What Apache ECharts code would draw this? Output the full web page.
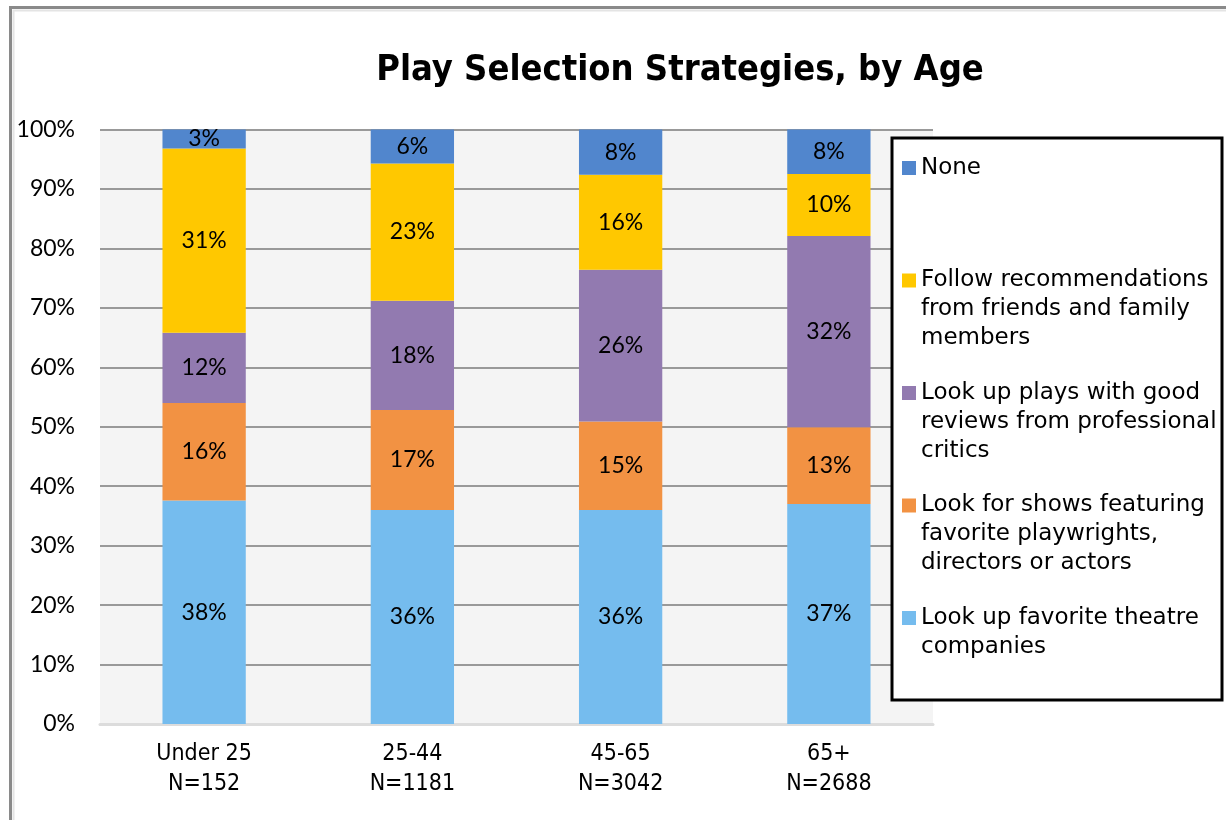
<!DOCTYPE html>
<html>
<head>
<meta charset="utf-8">
<title>Play Selection Strategies, by Age</title>
<script src="https://cdn.jsdelivr.net/npm/echarts@6/dist/echarts.min.js"></script>
<style>
  html, body { margin: 0; padding: 0; background: #fff; }
  #chart { width: 1226px; height: 820px; }
</style>
</head>
<body>
<div id="chart"></div>
<script>
  // categories (age groups with sample size)
  const ageGroups = ['Under 25\nN=152', '25-44\nN=1181', '45-65\nN=3042', '65+\nN=2688']

  // shares per strategy, bottom of the stack first
  const favoriteTheatres = [37.6, 36.0, 36.0, 37.0]
  const favoriteArtists = [16.4, 16.8, 14.9, 12.9]
  const criticReviews = [11.8, 18.4, 25.5, 32.2]
  const friendsFamily = [31.0, 23.1, 16.0, 10.4]
  const none = [3.2, 5.7, 7.6, 7.5]

  const yTicks = [0, 10, 20, 30, 40, 50, 60, 70, 80, 90, 100]

  const names = {
    none: 'None',
    friends: 'Follow recommendations from friends and family members',
    critics: 'Look up plays with good reviews from professional critics',
    artists: 'Look for shows featuring favorite playwrights, directors or actors',
    theatres: 'Look up favorite theatre companies'
  }
  // wrapped legend text, padded to 5 lines so the marker lines up with the first line
  const legendText = {}
  legendText[names.none] = '\n\nNone\n\n'
  legendText[names.friends] = '\n\nFollow recommendations\nfrom friends and family\nmembers'
  legendText[names.critics] = '\n\nLook up plays with good\nreviews from professional\ncritics'
  legendText[names.artists] = '\n\nLook for shows featuring\nfavorite playwrights,\ndirectors or actors'
  legendText[names.theatres] = '\n\nLook up favorite theatre\ncompanies\n'

  const labelFont = 'Lato, "Noto Sans", sans-serif'
  const narrowFont = '"DejaVu Sans Condensed", sans-serif'

  function barSeries(name, data, color) {
    return {
      name: name,
      type: 'bar',
      stack: 'total',
      barWidth: '40%',
      data: data,
      itemStyle: { color: color },
      label: {
        show: true,
        position: 'inside',
        color: '#000',
        fontFamily: labelFont,
        fontSize: 23,
        formatter: p => Math.round(p.value) + '%'
      }
    }
  }

  const chart = echarts.init(document.getElementById('chart'))
  chart.setOption({
    backgroundColor: '#fff',
    animation: false,
    title: {
      text: 'Play Selection Strategies, by Age',
      left: 675,
      top: 48,
      textAlign: 'center',
      textStyle: {
        fontFamily: '"DejaVu Sans Condensed", "DejaVu Sans", sans-serif',
        fontWeight: 'bold',
        fontSize: 36,
        color: '#000'
      }
    },
    grid: {
      left: 100,
      right: 293,
      top: 129.5,
      bottom: 96,
      show: true,
      backgroundColor: '#f4f4f4',
      borderWidth: 0
    },
    legend: {
      orient: 'vertical',
      left: 902,
      top: 95.5,
      padding: 0,
      itemWidth: 14,
      itemHeight: 14,
      itemGap: -32.5,
      icon: 'rect',
      selectedMode: false,
      z: 10,
      data: [names.none, names.friends, names.critics, names.artists, names.theatres],
      formatter: name => legendText[name],
      textStyle: {
        fontFamily: '"DejaVu Sans", sans-serif',
        fontSize: 23,
        lineHeight: 29,
        color: '#000'
      }
    },
    xAxis: {
      type: 'category',
      data: ageGroups,
      axisTick: { show: false },
      axisLine: { lineStyle: { color: '#dcdcdc', width: 3 } },
      axisLabel: {
        margin: 15,
        color: '#000',
        fontFamily: narrowFont,
        fontSize: 23,
        lineHeight: 30
      }
    },
    yAxis: {
      type: 'value',
      min: 0,
      max: 100,
      interval: 10,
      axisLine: { show: false },
      axisTick: { show: false },
      axisLabel: {
        margin: 25,
        color: '#000',
        fontFamily: labelFont,
        fontSize: 23,
        formatter: v => yTicks.indexOf(v) >= 0 ? v + '%' : ''
      },
      splitLine: { showMinLine: false, lineStyle: { color: '#999', width: 2 } }
    },
    graphic: [
      {
        type: 'rect',
        z: 0,
        silent: true,
        shape: { x: 10.5, y: 7.5, width: 1300, height: 900 },
        style: { fill: null, stroke: '#8a8a8a', lineWidth: 3 }
      },
      {
        type: 'rect',
        z: 0,
        silent: true,
        shape: { x: 13.5, y: 10.5, width: 1300, height: 900 },
        style: { fill: null, stroke: '#e4e4e4', lineWidth: 2 }
      },
      {
        type: 'rect',
        z: 5,
        silent: true,
        shape: { x: 892, y: 138, width: 330, height: 562 },
        style: { fill: '#fff', stroke: '#000', lineWidth: 3 }
      }
    ],
    series: [
      barSeries(names.theatres, favoriteTheatres, '#75bcee'),
      barSeries(names.artists, favoriteArtists, '#f29243'),
      barSeries(names.critics, criticReviews, '#927ab0'),
      barSeries(names.friends, friendsFamily, '#ffc800'),
      barSeries(names.none, none, '#5186cd')
    ]
  })
</script>
</body>
</html>
